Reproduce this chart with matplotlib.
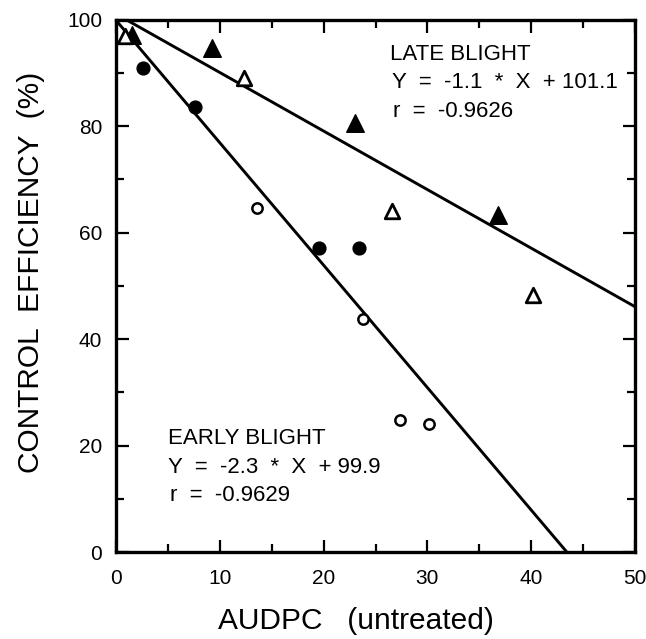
import numpy as np
import matplotlib
matplotlib.use("Agg")
from matplotlib import pyplot as plt
from matplotlib.ticker import MultipleLocator

plt.rcParams['font.family'] = ['Liberation Sans', 'DejaVu Sans']

# early blight (circles): filled and open treatments
early_fill_x = [2.6, 7.6, 19.6, 23.4]
early_fill_y = [90.9, 83.7, 57.2, 57.2]
early_open_x = [13.6, 23.8, 27.4, 30.2]
early_open_y = [64.6, 43.8, 24.9, 24.0]

# late blight (triangles)
late_fill_x = [1.5, 9.2, 23.0, 36.8]
late_fill_y = [97.2, 94.7, 80.6, 63.3]
late_open_x = [0.9, 12.3, 26.6, 40.2]
late_open_y = [96.9, 89.0, 64.0, 48.3]

# fitted lines
early_slope, early_icpt, early_r = -2.3, 99.9, -0.9629
late_slope, late_icpt, late_r = -1.1, 101.1, -0.9626

fig = plt.figure(figsize=(6.46, 6.39), dpi=100)
ax = fig.add_axes([0.1796, 0.136, 0.8034, 0.833])

xs = np.array([0, 50])
ax.plot(xs, early_slope * xs + early_icpt, color='black', lw=2.1, zorder=2)
ax.plot(xs, late_slope * xs + late_icpt, color='black', lw=2.1, zorder=2)

ax.scatter(early_fill_x, early_fill_y, s=85, marker='o', facecolor='black',
           edgecolor='black', zorder=3)
ax.scatter(early_open_x, early_open_y, s=55, marker='o', facecolor='white',
           edgecolor='black', linewidths=1.8, zorder=3)
ax.scatter(late_fill_x, late_fill_y, s=160, marker='^', facecolor='black',
           edgecolor='black', zorder=3)
ax.scatter(late_open_x, late_open_y, s=110, marker='^', facecolor='white',
           edgecolor='black', linewidths=2.0, zorder=3)

ax.set_xlim(0, 50)
ax.set_ylim(0, 100)
ax.xaxis.set_major_locator(MultipleLocator(10))
ax.xaxis.set_minor_locator(MultipleLocator(5))
ax.yaxis.set_major_locator(MultipleLocator(20))
ax.yaxis.set_minor_locator(MultipleLocator(10))
ax.tick_params(which='both', direction='in', top=True, right=True,
               width=1.6, labelsize=15)
ax.tick_params(axis='x', which='major', length=9, pad=12)
ax.tick_params(axis='y', which='major', length=9, pad=10)
ax.tick_params(which='minor', length=6)
for sp in ax.spines.values():
    sp.set_linewidth(2.4)

ax.set_xlabel("AUDPC   (untreated)", fontsize=21.5)
ax.set_ylabel("CONTROL  EFFICIENCY  (%)", fontsize=21.5)
ax.xaxis.set_label_coords(0.462, -0.103)
ax.yaxis.set_label_coords(-0.137, 0.526)

txt = dict(fontsize=16, transform=ax.transData, ha='left', va='center')
ax.text(26.4, 93.4, "LATE BLIGHT", **txt)
ax.text(26.6, 88.2, f"Y  =  {late_slope}  *  X  + {late_icpt}", **txt)
ax.text(26.7, 82.7, f"r  =  {late_r}", **txt)
ax.text(5.0, 21.4, "EARLY BLIGHT", **txt)
ax.text(5.0, 15.8, f"Y  =  {early_slope}  *  X  + {early_icpt}", **txt)
ax.text(5.2, 10.7, f"r  =  {early_r}", **txt)

fig.savefig("out.png", dpi=100)
